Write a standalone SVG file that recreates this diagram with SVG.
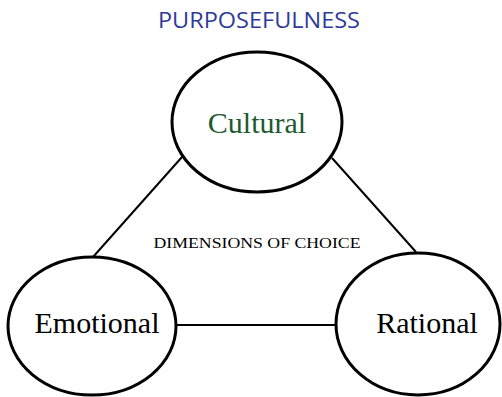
<svg xmlns="http://www.w3.org/2000/svg" width="502" height="397" viewBox="0 0 502 397">
<style>
.node{fill:#fff;stroke:#000;stroke-width:3}
.lbl{font-family:"Liberation Serif","Times New Roman",serif;font-size:30px;text-anchor:middle}
.conn{stroke:#000;stroke-width:2;fill:none}
</style>
<rect width="502" height="397" fill="#fff"/>
<text x="259" y="28" font-family="Open Sans, Liberation Sans, sans-serif" font-size="22" fill="#2e3a9a" text-anchor="middle" textLength="202" lengthAdjust="spacingAndGlyphs">PURPOSEFULNESS</text>
<g id="connectors">
<line class="conn" x1="182" y1="157" x2="93" y2="257"/>
<line class="conn" x1="332" y1="158" x2="416" y2="252"/>
<line class="conn" x1="176" y1="325" x2="335" y2="325"/>
</g>
<text x="257" y="248" font-family="Liberation Serif, Times New Roman, serif" font-size="15.5" text-anchor="middle" textLength="207" lengthAdjust="spacingAndGlyphs">DIMENSIONS OF CHOICE</text>
<g id="cultural">
<ellipse class="node" cx="257" cy="122" rx="85" ry="70"/>
<text class="lbl" x="257" y="133" fill="#1d5a32" font-size="31">Cultural</text>
</g>
<g id="emotional">
<ellipse class="node" cx="92" cy="326" rx="84" ry="69"/>
<text class="lbl" x="97" y="333">Emotional</text>
</g>
<g id="rational">
<ellipse class="node" cx="418" cy="324" rx="82" ry="71"/>
<text class="lbl" x="427" y="333">Rational</text>
</g>
</svg>
